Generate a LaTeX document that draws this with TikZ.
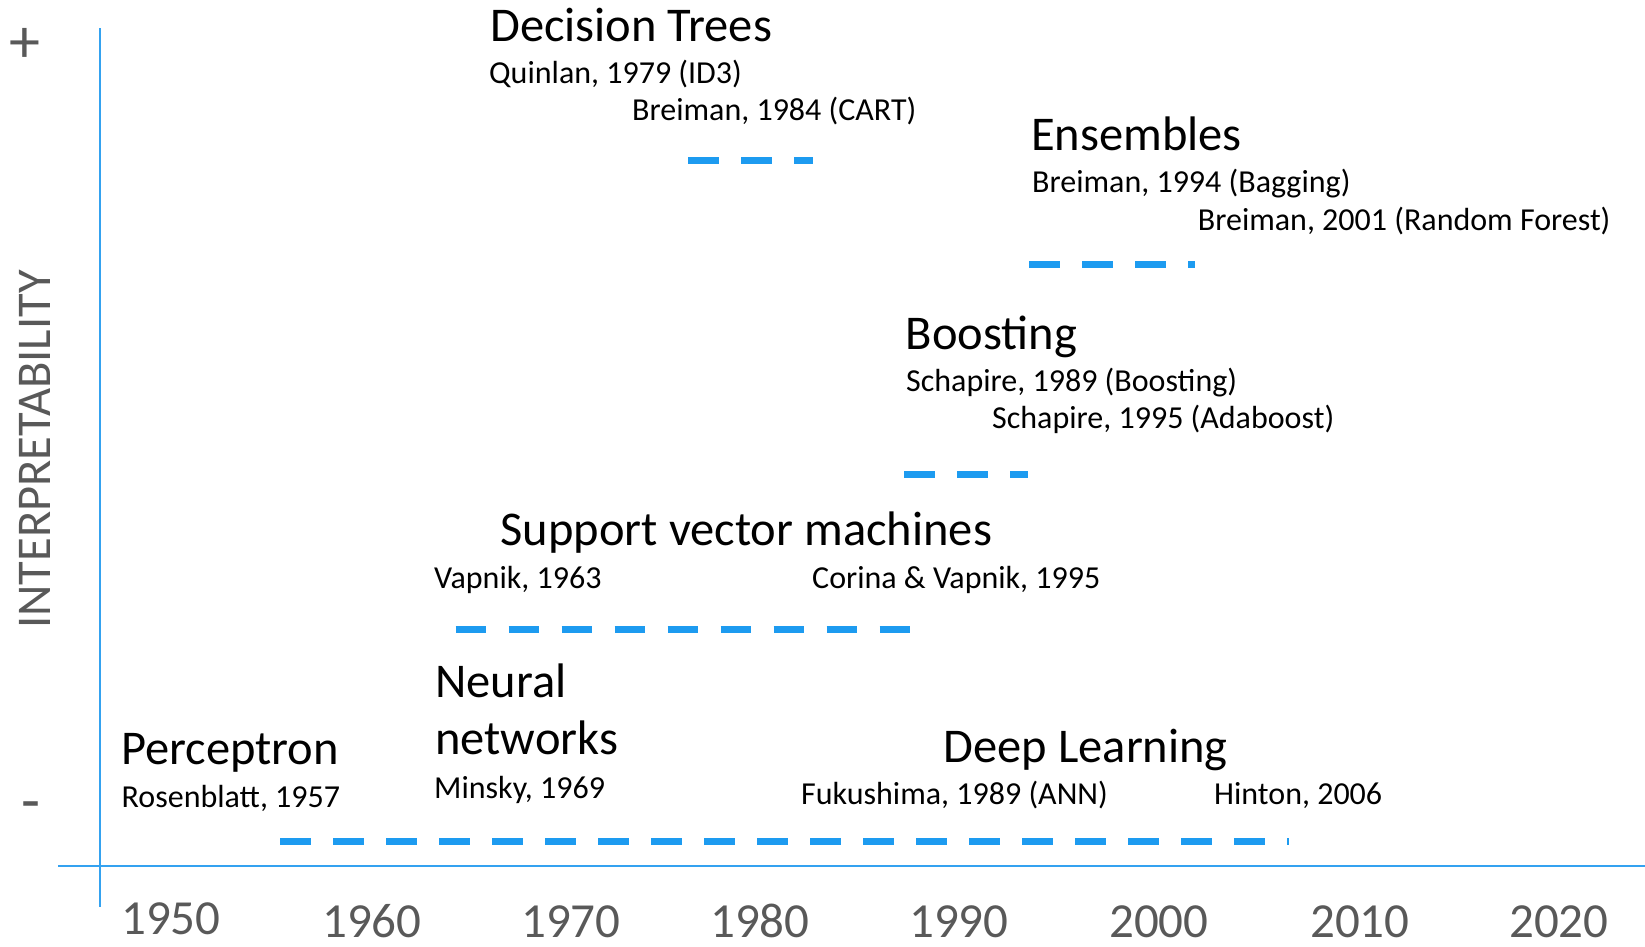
\documentclass[tikz,border=0pt]{standalone}
\usepackage{fontspec}
\setmainfont{Carlito}
\definecolor{lineblue}{RGB}{29,155,240}
\definecolor{axisblue}{RGB}{52,162,240}
\definecolor{axisgray}{RGB}{89,89,89}
\begin{document}
\begin{tikzpicture}[x=1pt,y=-1pt,
  title/.style={anchor=base west,inner sep=0pt,font=\fontsize{48.5}{56}\selectfont},
  sub/.style={anchor=base west,inner sep=0pt,font=\fontsize{32}{37}\selectfont},
  year/.style={anchor=base west,inner sep=0pt,text=axisgray,font=\fontsize{49}{50}\selectfont},
  axisline/.style={draw=axisblue,line width=2pt},
  dashline/.style={draw=lineblue,line width=7pt,dash pattern=on 30.5pt off 22.5pt}]
\useasboundingbox (0,0) rectangle (1645,946);
% axes
\coordinate (yTop) at (100,28);
\coordinate (yBot) at (100,907);
\coordinate (xLeft) at (58,866);
\coordinate (xRight) at (1645,866);
\draw[axisline] (yTop) -- (yBot);
\draw[axisline] (xLeft) -- (xRight);
\node[text=axisgray,inner sep=0pt,font=\fontsize{62}{62}\selectfont] (plus) at (25,45) {+};
\node[text=axisgray,inner sep=0pt,font=\fontsize{62}{62}\selectfont] (minus) at (31,811.5) {-};
\node[text=axisgray,inner sep=0pt,anchor=base,rotate=90,font=\fontsize{48.5}{50}\selectfont] (ylabel) at (50,449.5) {INTERPRETABILITY};
% years
\node[year] (y1950) at (121,934) {1950};
\node[year] (y1960) at (322,937) {1960};
\node[year] (y1970) at (521,937) {1970};
\node[year] (y1980) at (710,937) {1980};
\node[year] (y1990) at (909,937) {1990};
\node[year] (y2000) at (1109,937) {2000};
\node[year] (y2010) at (1310,937) {2010};
\node[year] (y2020) at (1509,937) {2020};
% Decision trees
\node[title] (dt) at (490,41.7) {Decision Trees};
\node[sub] (dt1) at (489,83) {Quinlan, 1979 (ID3)};
\node[sub] (dt2) at (632,120) {Breiman, 1984 (CART)};
\coordinate (dtA) at (688,160);
\coordinate (dtB) at (813,160);
\draw[dashline] (dtA) -- (dtB);
% Ensembles
\node[title] (en) at (1031,150.7) {Ensembles};
\node[sub] (en1) at (1032,192.7) {Breiman, 1994 (Bagging)};
\node[sub] (en2) at (1197.7,230) {Breiman, 2001 (Random Forest)};
\coordinate (enA) at (1029,264);
\coordinate (enB) at (1195,264);
\draw[dashline] (enA) -- (enB);
% Boosting
\node[title] (bo) at (905.5,349) {Boosting};
\node[sub] (bo1) at (906,391) {Schapire, 1989 (Boosting)};
\node[sub] (bo2) at (992,428) {Schapire, 1995 (Adaboost)};
\coordinate (boA) at (904,474);
\coordinate (boB) at (1028,474);
\draw[dashline] (boA) -- (boB);
% SVM
\node[title] (svm) at (500.5,545.7) {Support vector machines};
\node[sub] (svm1) at (434,588) {Vapnik, 1963};
\node[sub] (svm2) at (812,588) {Corina \& Vapnik, 1995};
\coordinate (svmA) at (455.5,629);
\coordinate (svmB) at (910,629);
\draw[dashline] (svmA) -- (svmB);
% Neural networks
\node[title] (nn1) at (435,697.5) {Neural};
\node[title] (nn2) at (435,754) {networks};
\node[sub] (nn3) at (434,798) {Minsky, 1969};
% Perceptron
\node[title] (pc) at (121,764.5) {Perceptron};
\node[sub] (pc1) at (121.5,807) {Rosenblatt, 1957};
% Deep learning
\node[title] (dl) at (943.5,762) {Deep Learning};
\node[sub] (dl1) at (801,804) {Fukushima, 1989 (ANN)};
\node[sub] (dl2) at (1214,804) {Hinton, 2006};
\coordinate (dlA) at (280,841);
\coordinate (dlB) at (1288.5,841);
\draw[dashline] (dlA) -- (dlB);
\end{tikzpicture}
\end{document}
